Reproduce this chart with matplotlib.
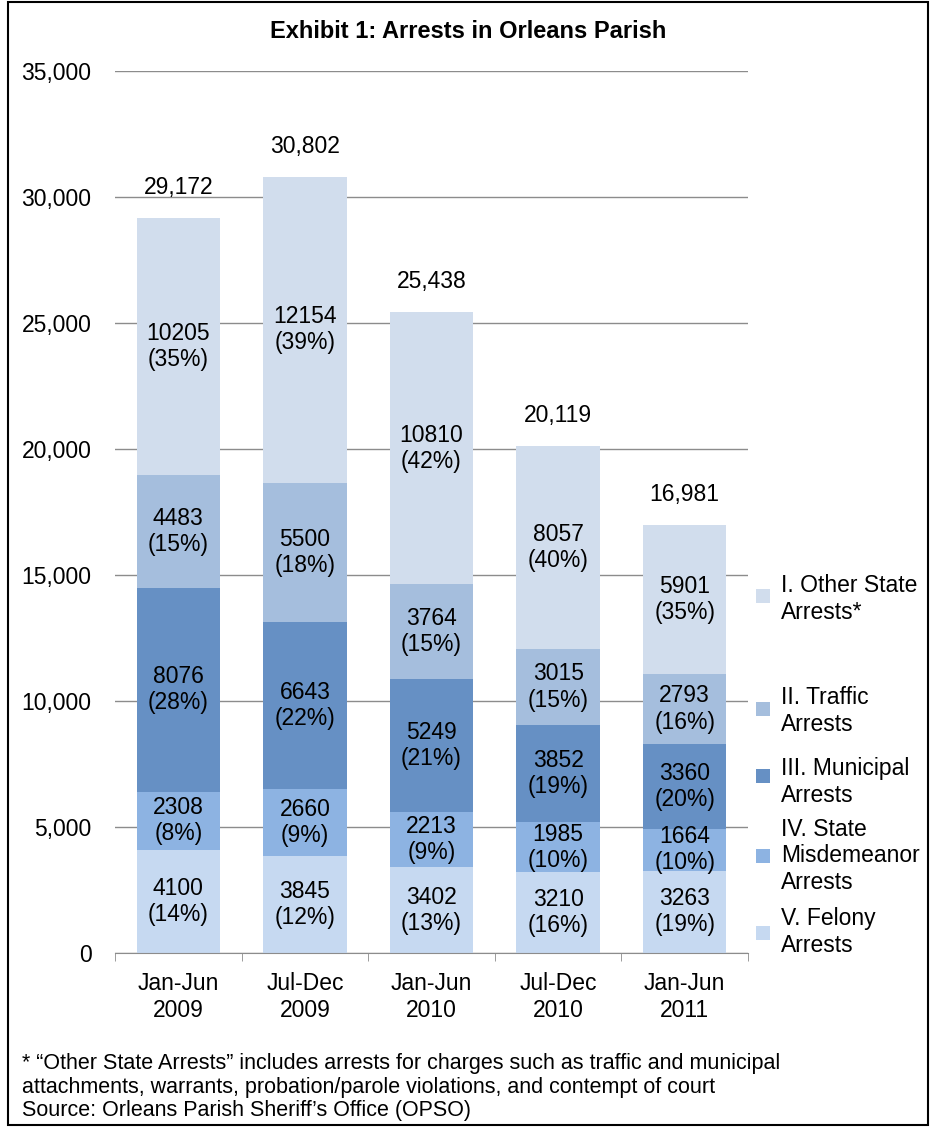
import numpy as np
import matplotlib.pyplot as plt
from matplotlib.patches import Rectangle

plt.rcParams['font.family'] = ['Liberation Sans', 'DejaVu Sans']

# Data
periods = ['Jan-Jun\n2009', 'Jul-Dec\n2009', 'Jan-Jun\n2010', 'Jul-Dec\n2010', 'Jan-Jun\n2011']
felony = [4100, 3845, 3402, 3210, 3263]
misdemeanor = [2308, 2660, 2213, 1985, 1664]
municipal = [8076, 6643, 5249, 3852, 3360]
traffic = [4483, 5500, 3764, 3015, 2793]
other_state = [10205, 12154, 10810, 8057, 5901]
totals = [29172, 30802, 25438, 20119, 16981]

pct_felony = [14, 12, 13, 16, 19]
pct_misdemeanor = [8, 9, 9, 10, 10]
pct_municipal = [28, 22, 21, 19, 20]
pct_traffic = [15, 18, 15, 15, 16]
pct_other = [35, 39, 42, 40, 35]

series = [
    (felony, pct_felony, '#c6d9f1', 'V. Felony\nArrests'),
    (misdemeanor, pct_misdemeanor, '#8db3e2', 'IV. State\nMisdemeanor\nArrests'),
    (municipal, pct_municipal, '#6690c4', 'III. Municipal\nArrests'),
    (traffic, pct_traffic, '#a5bedd', 'II. Traffic\nArrests'),
    (other_state, pct_other, '#d1dded', 'I. Other State\nArrests*'),
]

FS = 16.5
LS = 1.17
W, H = 933, 1132
fig = plt.figure(figsize=(W / 100, H / 100), dpi=100)
ax = fig.add_axes([115 / W, 1 - 953 / H, (748 - 115) / W, (953 - 71) / H])

x = np.arange(len(periods))
bottom = np.zeros(len(periods))
for vals, pcts, color, name in series:
    ax.bar(x, vals, width=0.66, bottom=bottom, color=color, edgecolor='none', zorder=2)
    for xi, v, p, b in zip(x, vals, pcts, bottom):
        ax.text(xi, b + v / 2, f'{v}\n({p}%)', ha='center', va='center',
                fontsize=FS, linespacing=LS, zorder=3)
    bottom += np.array(vals)

for xi, t in zip(x, totals):
    ax.text(xi, t + 1200, f'{t:,}', ha='center', va='center', fontsize=FS)

ax.set_xlim(-0.5, len(periods) - 0.5)
ax.set_ylim(0, 35000)
ax.set_yticks(np.arange(0, 35001, 5000))
ax.set_yticklabels([f'{v:,}' for v in range(0, 35001, 5000)], fontsize=FS)
ax.yaxis.grid(True, color='#8c8c8c', linewidth=1.0, zorder=0)
ax.set_axisbelow(True)
ax.tick_params(axis='y', length=0, pad=17)
ax.set_xticks(x)
ax.set_xticklabels(periods, fontsize=FS, linespacing=1.22)
ax.set_xticks(np.arange(-0.5, len(periods)), minor=True)
ax.tick_params(axis='x', which='major', length=0, pad=14)
ax.tick_params(axis='x', which='minor', length=6, color='#8c8c8c')
for s in ['top', 'right', 'left']:
    ax.spines[s].set_visible(False)
ax.spines['bottom'].set_color('#8c8c8c')

fig.text(468 / W, 1 - 32 / H, 'Exhibit 1: Arrests in Orleans Parish', ha='center', va='center',
         fontsize=17, fontweight='bold')

# Legend placed by hand beside the bars: (text centre, marker centre) in pixels from top
legend_y = {'I. Other State\nArrests*': (599, 596), 'II. Traffic\nArrests': (711, 709),
            'III. Municipal\nArrests': (782, 776), 'IV. State\nMisdemeanor\nArrests': (856, 856),
            'V. Felony\nArrests': (932, 933)}
for vals, pcts, color, name in series:
    yt, ym = legend_y[name]
    fig.patches.append(Rectangle((756 / W, 1 - (ym + 7) / H), 14 / W, 14 / H,
                                 transform=fig.transFigure, facecolor=color, edgecolor='none'))
    fig.text(781 / W, 1 - yt / H, name, ha='left', va='center', fontsize=FS, linespacing=LS)

foot = ('* \u201cOther State Arrests\u201d includes arrests for charges such as traffic and municipal\n'
        'attachments, warrants, probation/parole violations, and contempt of court\n'
        'Source: Orleans Parish Sheriff\u2019s Office (OPSO)')
fig.text(22 / W, 1 - 1087 / H, foot, ha='left', va='center', fontsize=15.5, linespacing=1.13)

fig.patches.append(Rectangle((8 / W, 1 - 1125 / H), 920 / W, 1123 / H, transform=fig.transFigure,
                             facecolor='none', edgecolor='black', linewidth=1.5))

fig.savefig('out.png', dpi=100)
